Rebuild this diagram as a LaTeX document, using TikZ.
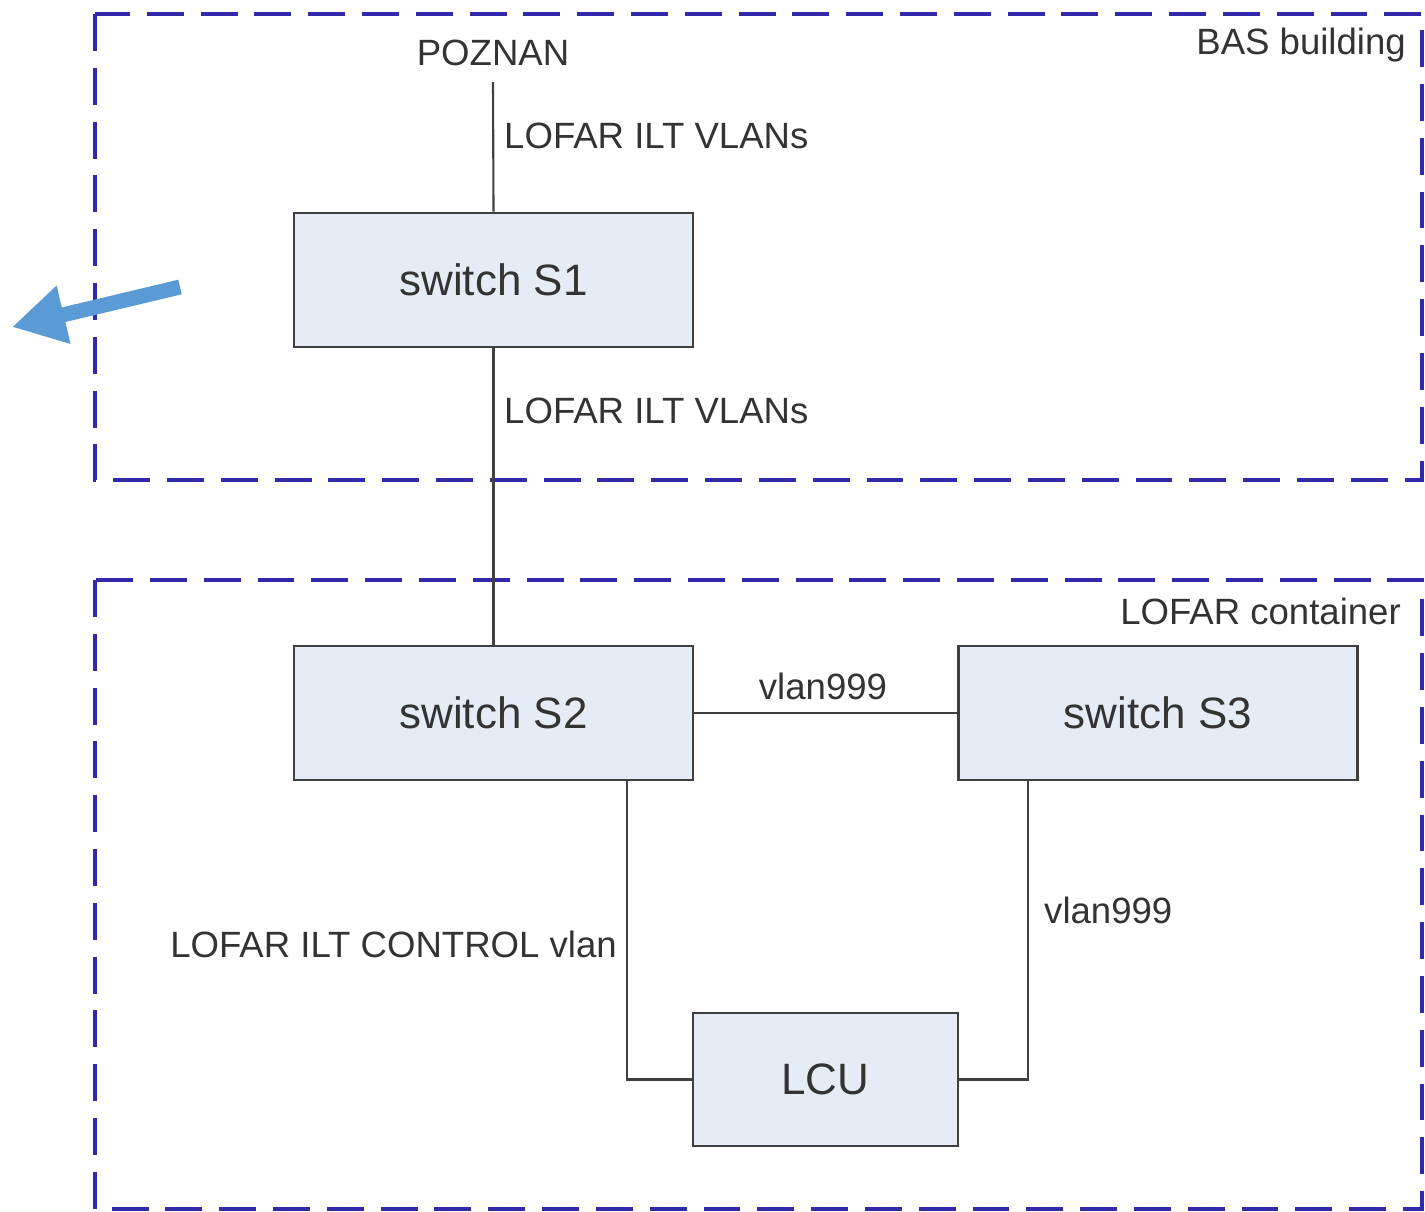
\documentclass[tikz,border=0pt]{standalone}
\usepackage{fontspec}
\setmainfont{Liberation Sans}
\usepackage{tikz}
\usetikzlibrary{calc,arrows.meta}

\definecolor{boxfill}{RGB}{230,236,246}
\definecolor{boxline}{RGB}{64,64,64}
\definecolor{zone}{RGB}{50,40,170}
\definecolor{txt}{RGB}{51,51,51}
\definecolor{pointer}{RGB}{91,155,213}

\tikzset{
    switchbox/.style={draw=boxline, line width=0.7pt, fill=boxfill, text=txt,
        minimum width=3.99cm, minimum height=1.34cm, font=\fontsize{12.5}{14}\selectfont},
    lbl/.style={text=txt, inner sep=1pt, font=\fontsize{10.4}{12}\selectfont},
    link/.style={draw=boxline, line width=0.6pt},
    zonebox/.style={draw=zone, line width=1.1pt, dash pattern=on 10.5pt off 4.8pt}
}

\begin{document}
\begin{tikzpicture}[x=0.01cm,y=-0.01cm]
        \useasboundingbox (0,0) rectangle (1425,1211);
        % the two sites
        \draw[zonebox] (95,14) rectangle (1422,480);
        \draw[zonebox] (95,580) rectangle (1422,1209);
        \node[lbl, anchor=east] (bas) at (1410,45) {BAS building};
        \node[lbl, anchor=east] (cont) at (1405,611) {LOFAR container};

        % switches
        \node[switchbox] (s1) at (493.5,280) {switch S1};
        \node[switchbox] (s2) at (493.5,713) {switch S2};
        \node[switchbox] (s3) at (1158,713) {switch S3};
        \node[switchbox, minimum width=2.65cm, minimum height=1.33cm] (lcu) at (825.5,1079.5) {LCU};
        \node[lbl, anchor=south, inner sep=4.5pt] (poznan) at (493,82) {POZNAN};

        % links
        \draw[link] (poznan.south) -- (s1.north);
        \draw[link] (s1.south) -- (s2.north);
        \draw[link] (s2.east) -- (s3.west);
        \draw[link] ([xshift=1.335cm]s2.south) |- (lcu.west);
        \draw[link] ([xshift=-1.3cm]s3.south) |- (lcu.east);

        \node[lbl, anchor=west] (l1) at (500,136) {LOFAR ILT VLANs};
        \node[lbl, anchor=west] (l2) at (500,411) {LOFAR ILT VLANs};
        \node[lbl] (l3) at (823,686) {vlan999};
        \node[lbl, anchor=west] (l4) at (1040,910) {vlan999};
        \node[lbl, anchor=east] (l5) at (621,944) {LOFAR ILT CONTROL vlan};

        % pointer
        \coordinate (ptail) at (180,287);
        \coordinate (ptip) at (12,327);
        \draw[draw=pointer, line width=0.15cm, -{Triangle[length=0.53cm,width=0.56cm]}, pointer] (ptail) -- (ptip);
    \end{tikzpicture}
\end{document}
